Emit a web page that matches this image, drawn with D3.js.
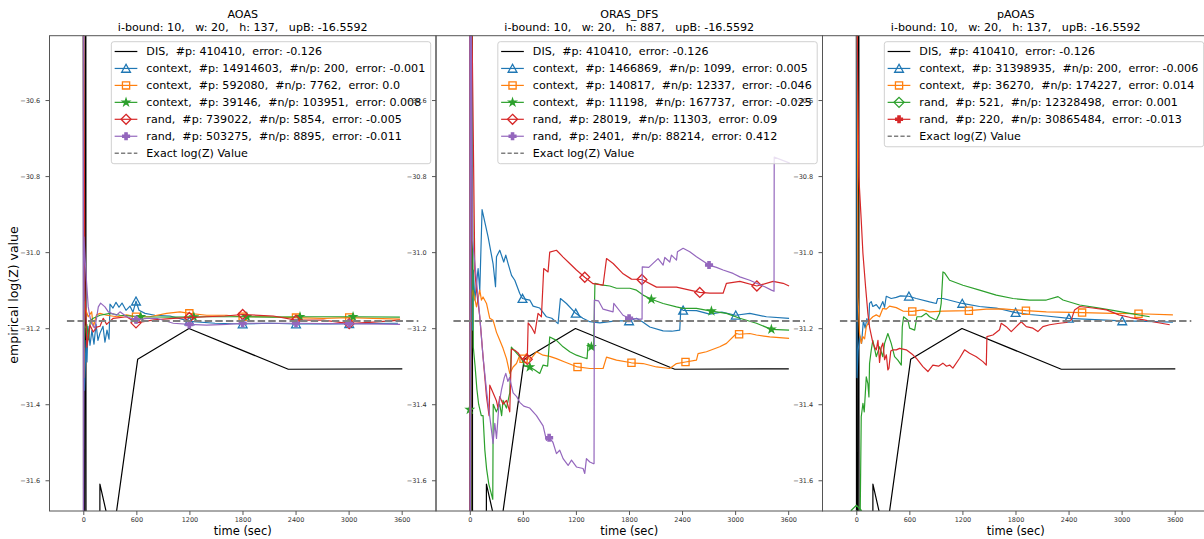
<!DOCTYPE html>
<html><head><meta charset="utf-8">
<script src="https://cdn.jsdelivr.net/npm/d3@7"></script>
<style>
body{margin:0;background:#fff;}
svg{font-family:"DejaVu Sans",sans-serif;}
</style>
</head><body>
<svg id="chart" width="1204" height="539"></svg>
<script>
// ---------------- data ----------------
const timeTicks = [0, 600, 1200, 1800, 2400, 3000, 3600];
const valueTicks = [-31.6, -31.4, -31.2, -31.0, -30.8, -30.6];
const exactLogZ = -31.181;
const exactSpan = [-185, 3788];
const panelTitles = ["AOAS", "ORAS_DFS", "pAOAS"];
const panelSubtitles = [
  "i-bound: 10,   w: 20,   h: 137,   upB: -16.5592",
  "i-bound: 10,   w: 20,   h: 887,   upB: -16.5592",
  "i-bound: 10,   w: 20,   h: 137,   upB: -16.5592"
];
const disLabel = "DIS,  #p: 410410,  error: -0.126";
const exactLabel = "Exact log(Z) Value";
const disData = [[0,-29.5],[4,-33.5],[28,-29.5],[33,-33.5],[178,-33.5],[188,-31.61],[331,-31.757],[615,-31.282],[1195,-31.201],[2318,-31.308],[3607,-31.307]];

// AOAS
const aoasLabels = [
  "context,  #p: 14914603,  #n/p: 200,  error: -0.001",
  "context,  #p: 592080,  #n/p: 7762,  error: 0.0",
  "context,  #p: 39146,  #n/p: 103951,  error: 0.008",
  "rand,  #p: 739022,  #n/p: 5854,  error: -0.005",
  "rand,  #p: 503275,  #n/p: 8895,  error: -0.011"
];
const aoasCtxA = [[0,-29.8],[8,-31.126],[14,-31.363],[31,-31.232],[42,-31.289],[53,-31.195],[76,-31.245],[98,-31.205],[121,-31.242],[144,-31.189],[166,-31.232],[189,-31.213],[223,-31.195],[245,-31.237],[268,-31.205],[291,-31.229],[302,-31.137],[336,-31.147],[370,-31.132],[404,-31.145],[438,-31.134],[483,-31.153],[528,-31.142],[562,-31.158],[596,-31.129],[630,-31.153],[698,-31.161],[811,-31.166],[980,-31.168],[1206,-31.182],[1489,-31.187],[1805,-31.189],[2110,-31.187],[2405,-31.189],[2790,-31.189],[3128,-31.188],[3558,-31.187]];
const aoasCtxB = [[0,-30.1],[6,-31.33],[15,-31.13],[30,-31.153],[56,-31.17],[95,-31.157],[113,-31.197],[150,-31.165],[189,-31.161],[264,-31.166],[380,-31.17],[490,-31.165],[596,-31.17],[750,-31.17],[942,-31.161],[1093,-31.157],[1199,-31.161],[1395,-31.166],[1621,-31.166],[1772,-31.170],[2074,-31.170],[2375,-31.172],[2714,-31.174],[3007,-31.172],[3280,-31.174],[3582,-31.176]];
const aoasCtxC = [[0,-30.3],[8,-31.25],[20,-31.2],[40,-31.19],[60,-31.23],[80,-31.18],[113,-31.174],[189,-31.166],[302,-31.161],[415,-31.166],[640,-31.170],[1017,-31.171],[1395,-31.170],[1772,-31.170],[2149,-31.171],[2450,-31.170],[2760,-31.170],[3050,-31.170],[3580,-31.171]];
const aoasRandA = [[0,-30.2],[19,-31.10],[40,-31.25],[75,-31.192],[94,-31.201],[113,-31.21],[151,-31.197],[189,-31.195],[226,-31.174],[264,-31.19],[339,-31.174],[490,-31.17],[596,-31.186],[800,-31.178],[1017,-31.174],[1199,-31.172],[1394,-31.17],[1600,-31.168],[1802,-31.164],[2149,-31.168],[2405,-31.179],[2714,-31.179],[3007,-31.188],[3280,-31.184],[3580,-31.179]];
const aoasRandB = [[0,-30.2],[3,-31.9],[8,-30.96],[19,-31.012],[38,-31.082],[56,-31.144],[75,-31.17],[95,-31.188],[132,-31.2],[170,-31.144],[196,-31.134],[245,-31.144],[283,-31.157],[321,-31.161],[377,-31.166],[415,-31.157],[490,-31.170],[596,-31.178],[717,-31.174],[830,-31.174],[1017,-31.187],[1199,-31.190],[1394,-31.192],[1621,-31.190],[1802,-31.187],[2405,-31.187],[2714,-31.188],[3007,-31.188],[3582,-31.190]];
const aoasMarkTimes = [[596,1199,1802,2405,3007],[596,1199,1802,2405,3007],[650,1250,1850,2450,3050],[596,1199,1802,2405,3007],[596,1199,1802,2405,3007]];

// ORAS_DFS
const orasLabels = [
  "context,  #p: 1466869,  #n/p: 1099,  error: 0.005",
  "context,  #p: 140817,  #n/p: 12337,  error: -0.046",
  "context,  #p: 11198,  #n/p: 167737,  error: -0.025",
  "rand,  #p: 28019,  #n/p: 11303,  error: 0.09",
  "rand,  #p: 2401,  #n/p: 88214,  error: 0.412"
];
const orasCtxA = [[0,-30.2],[6,-30.3],[17,-31.179],[23,-30.995],[31,-31.205],[40,-31.047],[57,-31.126],[94,-31.043],[113,-31.1],[139,-30.888],[207,-30.960],[263,-31.030],[291,-31.091],[302,-31.012],[339,-30.995],[384,-31.026],[407,-31.008],[433,-31.030],[472,-31.061],[509,-31.074],[565,-31.109],[596,-31.122],[678,-31.126],[716,-31.142],[791,-31.147],[867,-31.170],[927,-31.174],[998,-31.188],[1025,-31.122],[1093,-31.135],[1198,-31.161],[1278,-31.174],[1357,-31.183],[1470,-31.186],[1583,-31.183],[1659,-31.181],[1801,-31.181],[1885,-31.174],[1956,-31.184],[2035,-31.197],[2186,-31.207],[2284,-31.208],[2374,-31.205],[2386,-31.148],[2412,-31.153],[2563,-31.154],[2713,-31.163],[2849,-31.158],[3007,-31.166],[3166,-31.161],[3354,-31.170],[3610,-31.174]];
const orasCtxB = [[0,-30.3],[17,-31.126],[37,-31.100],[76,-31.144],[113,-31.100],[132,-31.126],[150,-31.118],[189,-31.135],[226,-31.174],[263,-31.179],[302,-31.211],[339,-31.232],[376,-31.253],[415,-31.280],[452,-31.319],[490,-31.302],[528,-31.293],[565,-31.271],[599,-31.284],[641,-31.267],[678,-31.284],[754,-31.262],[829,-31.271],[904,-31.274],[980,-31.280],[1074,-31.289],[1218,-31.302],[1357,-31.306],[1507,-31.306],[1546,-31.276],[1659,-31.284],[1828,-31.291],[1959,-31.293],[2111,-31.302],[2261,-31.306],[2337,-31.293],[2439,-31.289],[2563,-31.284],[2581,-31.267],[2676,-31.262],[2826,-31.249],[2902,-31.240],[3015,-31.214],[3045,-31.216],[3166,-31.214],[3241,-31.218],[3392,-31.223],[3610,-31.227]];
const orasCtxC = [[0,-31.414],[3,-30.2],[10,-32.0],[25,-30.4],[40,-31.25],[60,-31.30],[80,-31.36],[100,-31.40],[130,-31.43],[150,-31.43],[170,-31.52],[190,-31.57],[215,-31.61],[260,-31.65],[265,-31.40],[300,-31.42],[339,-31.40],[360,-31.43],[376,-31.39],[415,-31.41],[452,-31.37],[470,-31.25],[509,-31.26],[547,-31.27],[585,-31.28],[620,-31.30],[678,-31.302],[735,-31.31],[791,-31.319],[829,-31.297],[880,-31.30],[904,-31.223],[980,-31.232],[1055,-31.249],[1130,-31.262],[1206,-31.271],[1281,-31.277],[1326,-31.280],[1338,-31.240],[1375,-31.249],[1400,-31.253],[1415,-31.082],[1507,-31.087],[1583,-31.089],[1659,-31.095],[1810,-31.095],[1885,-31.100],[1960,-31.113],[2053,-31.124],[2186,-31.135],[2337,-31.144],[2412,-31.148],[2563,-31.148],[2732,-31.155],[2902,-31.161],[3053,-31.174],[3241,-31.187],[3410,-31.203],[3610,-31.205]];
const orasRandA = [[0,-30.2],[5,-32.2],[20,-30.3],[57,-31.048],[76,-31.1],[113,-31.17],[150,-31.275],[189,-31.38],[218,-31.43],[226,-31.35],[263,-31.37],[300,-31.39],[320,-31.41],[339,-31.38],[376,-31.40],[415,-31.39],[452,-31.42],[471,-31.255],[509,-31.258],[547,-31.265],[585,-31.28],[650,-31.282],[660,-31.186],[697,-31.197],[735,-31.214],[772,-31.161],[810,-31.170],[836,-31.043],[885,-31.052],[904,-31.0],[980,-30.995],[1055,-31.013],[1130,-31.030],[1206,-31.047],[1300,-31.066],[1394,-31.083],[1507,-31.087],[1546,-31.017],[1621,-31.030],[1734,-31.057],[1828,-31.071],[1946,-31.072],[2111,-31.092],[2337,-31.092],[2488,-31.100],[2600,-31.106],[2713,-31.108],[2864,-31.108],[2902,-31.082],[3054,-31.077],[3246,-31.089],[3430,-31.077],[3543,-31.082],[3610,-31.089]];
const orasRandB = [[0,-30.2],[5,-32.2],[15,-30.3],[31,-30.968],[76,-31.074],[113,-31.17],[150,-31.276],[189,-31.363],[207,-31.398],[245,-31.468],[263,-31.503],[283,-31.45],[302,-31.49],[330,-31.40],[360,-31.36],[390,-31.33],[407,-31.319],[430,-31.34],[450,-31.33],[490,-31.37],[530,-31.38],[565,-31.395],[610,-31.405],[678,-31.41],[754,-31.43],[829,-31.457],[867,-31.495],[897,-31.488],[940,-31.50],[980,-31.530],[1017,-31.521],[1055,-31.543],[1112,-31.561],[1150,-31.547],[1206,-31.565],[1281,-31.569],[1300,-31.582],[1319,-31.543],[1357,-31.552],[1394,-31.556],[1405,-31.556],[1408,-31.126],[1455,-31.128],[1507,-31.150],[1620,-31.157],[1628,-31.135],[1733,-31.166],[1801,-31.174],[1922,-31.176],[1948,-31.176],[1950,-31.039],[2024,-31.040],[2129,-31.017],[2186,-31.034],[2205,-31.014],[2261,-31.026],[2280,-31.008],[2337,-31.021],[2348,-30.999],[2412,-30.990],[2487,-30.999],[2563,-31.012],[2705,-31.034],[2789,-31.040],[2864,-31.047],[2977,-31.056],[3053,-31.065],[3166,-31.074],[3241,-31.082],[3335,-31.091],[3411,-31.1],[3440,-31.103],[3442,-30.750],[3618,-30.766]];
const orasMarkTimes = [[596,1198,1801,2412,3007],[608,1218,1828,2439,3045],[0,678,1375,2053,2732,3410],[650,1300,1946,2600,3246],[897,1801,2705]];

// pAOAS
const paoasLabels = [
  "context,  #p: 31398935,  #n/p: 200,  error: -0.006",
  "context,  #p: 36270,  #n/p: 174227,  error: 0.014",
  "rand,  #p: 521,  #n/p: 12328498,  error: 0.001",
  "rand,  #p: 220,  #n/p: 30865484,  error: -0.013"
];
const paoasCtxA = [[0,-30.2],[5,-30.3],[8,-31.33],[20,-31.26],[40,-31.22],[60,-31.24],[80,-31.18],[100,-31.2],[120,-31.175],[140,-31.19],[150,-31.135],[169,-31.130],[187,-31.143],[226,-31.138],[263,-31.149],[300,-31.130],[320,-31.145],[339,-31.116],[395,-31.122],[452,-31.119],[500,-31.115],[595,-31.116],[678,-31.122],[829,-31.131],[904,-31.135],[920,-31.122],[980,-31.122],[1198,-31.135],[1394,-31.143],[1583,-31.147],[1801,-31.159],[1960,-31.164],[2149,-31.168],[2404,-31.174],[2637,-31.177],[3007,-31.181],[3279,-31.182],[3580,-31.184]];
const paoasCtxB = [[0,-30.2],[10,-30.3],[19,-31.118],[37,-31.214],[56,-31.240],[75,-31.222],[94,-31.228],[113,-31.196],[150,-31.179],[187,-31.170],[226,-31.165],[263,-31.170],[300,-31.148],[339,-31.150],[376,-31.142],[452,-31.146],[527,-31.155],[633,-31.156],[754,-31.152],[829,-31.157],[980,-31.155],[1273,-31.154],[1470,-31.150],[1658,-31.149],[1918,-31.154],[2149,-31.157],[2553,-31.159],[2902,-31.161],[3191,-31.162],[3580,-31.165]];
const paoasRandA = [[0,-31.679],[40,-31.78],[56,-31.433],[75,-31.398],[90,-31.42],[113,-31.328],[131,-31.346],[143,-31.381],[150,-31.293],[169,-31.258],[187,-31.232],[226,-31.275],[263,-31.249],[300,-31.275],[320,-31.240],[357,-31.214],[395,-31.240],[433,-31.275],[470,-31.284],[509,-31.297],[520,-31.197],[535,-31.170],[584,-31.179],[603,-31.200],[660,-31.205],[685,-31.170],[735,-31.170],[791,-31.161],[829,-31.170],[904,-31.179],[942,-31.161],[960,-31.135],[980,-31.052],[1000,-31.055],[1055,-31.074],[1206,-31.087],[1394,-31.100],[1583,-31.113],[1772,-31.122],[1960,-31.126],[2149,-31.126],[2281,-31.117],[2337,-31.126],[2525,-31.139],[2713,-31.146],[2902,-31.153],[3091,-31.161],[3317,-31.170]];
const paoasRandB = [[0,-30.2],[29,-30.802],[56,-30.916],[75,-31.003],[105,-31.091],[131,-31.161],[150,-31.197],[169,-31.218],[188,-31.239],[207,-31.25],[226,-31.257],[245,-31.232],[263,-31.29],[283,-31.25],[301,-31.239],[320,-31.283],[340,-31.27],[357,-31.31],[369,-31.305],[390,-31.26],[414,-31.257],[452,-31.257],[490,-31.253],[565,-31.257],[640,-31.270],[678,-31.279],[753,-31.301],[810,-31.314],[866,-31.297],[930,-31.30],[979,-31.292],[1020,-31.30],[1055,-31.297],[1092,-31.305],[1168,-31.279],[1224,-31.257],[1281,-31.266],[1357,-31.275],[1432,-31.288],[1470,-31.297],[1477,-31.222],[1545,-31.218],[1620,-31.204],[1639,-31.187],[1696,-31.196],[1752,-31.209],[1809,-31.196],[1865,-31.183],[1922,-31.196],[1997,-31.2],[2053,-31.209],[2110,-31.196],[2186,-31.191],[2298,-31.187],[2374,-31.185],[2431,-31.178],[2468,-31.152],[2525,-31.143],[2675,-31.147],[2830,-31.152],[2970,-31.165],[3100,-31.172],[3250,-31.178],[3400,-31.185],[3544,-31.191]];
const paoasMarkTimes = [[595,1198,1801,2404,3007],[633,1273,1918,2553,3191],[0],[]];

// ---------------- styling / layout ----------------
const C = {blue:"#1f77b4", orange:"#ff7f0e", green:"#2ca02c", red:"#d62728", purple:"#9467bd"};
const panels = [
  {series:[
    {data:aoasCtxA,label:aoasLabels[0],color:C.blue,marker:"^",marks:aoasMarkTimes[0]},
    {data:aoasCtxB,label:aoasLabels[1],color:C.orange,marker:"s",marks:aoasMarkTimes[1]},
    {data:aoasCtxC,label:aoasLabels[2],color:C.green,marker:"*",marks:aoasMarkTimes[2]},
    {data:aoasRandA,label:aoasLabels[3],color:C.red,marker:"D",marks:aoasMarkTimes[3]},
    {data:aoasRandB,label:aoasLabels[4],color:C.purple,marker:"P",marks:aoasMarkTimes[4]}]},
  {series:[
    {data:orasCtxA,label:orasLabels[0],color:C.blue,marker:"^",marks:orasMarkTimes[0]},
    {data:orasCtxB,label:orasLabels[1],color:C.orange,marker:"s",marks:orasMarkTimes[1]},
    {data:orasCtxC,label:orasLabels[2],color:C.green,marker:"*",marks:orasMarkTimes[2]},
    {data:orasRandA,label:orasLabels[3],color:C.red,marker:"D",marks:orasMarkTimes[3]},
    {data:orasRandB,label:orasLabels[4],color:C.purple,marker:"P",marks:orasMarkTimes[4]}]},
  {series:[
    {data:paoasCtxA,label:paoasLabels[0],color:C.blue,marker:"^",marks:paoasMarkTimes[0]},
    {data:paoasCtxB,label:paoasLabels[1],color:C.orange,marker:"s",marks:paoasMarkTimes[1]},
    {data:paoasRandA,label:paoasLabels[2],color:C.green,marker:"D",marks:paoasMarkTimes[2]},
    {data:paoasRandB,label:paoasLabels[3],color:C.red,marker:"P",marks:paoasMarkTimes[3]}]}
];

const panelLeft = [49.5, 436, 822.5], panelW = 386.5, plotTop = 35.7, plotBottom = 511;
const xBase = d3.scaleLinear().domain([-382, 3988]).range([0, panelW]);
const yScale = d3.scaleLinear().domain([-31.6808, -30.4308]).range([plotBottom, plotTop]);

function markerPath(type){
  switch(type){
    case "^": return "M0,-4.2L4.4,3.8L-4.4,3.8Z";
    case "s": return "M-3.6,-3.6H3.6V3.6H-3.6Z";
    case "D": return "M0,-5L5,0L0,5L-5,0Z";
    case "*": {
      let p=[]; const R=3.7, r=R*0.382;
      for(let i=0;i<10;i++){const a=-Math.PI/2+i*Math.PI/5; const rr=i%2?r:R; p.push([rr*Math.cos(a), rr*Math.sin(a)]);}
      return "M"+p.map(d=>d[0].toFixed(2)+","+d[1].toFixed(2)).join("L")+"Z";
    }
    case "P": { const a=1.15, L=3.4;
      return `M${-a},${-L}H${a}V${-a}H${L}V${a}H${a}V${L}H${-a}V${a}H${-L}V${-a}H${-a}Z`; }
  }
}
const filled = t => t==="*" || t==="P";
function valueAt(data, t){
  const i = d3.bisector(d=>d[0]).left(data, t);
  if(i<=0) return data[0][1];
  if(i>=data.length) return data[data.length-1][1];
  const a=data[i-1], b=data[i];
  return a[1]+(b[1]-a[1])*(t-a[0])/(b[0]-a[0]);
}

const svg = d3.select("#chart");
const defs = svg.append("defs");

panels.forEach((p, pi) => {
  const L = panelLeft[pi];
  const x = xBase.copy().range([L, L+panelW]);
  const y = yScale;
  const g = svg.append("g");
  defs.append("clipPath").attr("id","clip"+pi).append("rect")
    .attr("x",L).attr("y",plotTop).attr("width",panelW).attr("height",plotBottom-plotTop);

  // y axis
  const ya = g.append("g").attr("transform",`translate(${L},0)`)
    .call(d3.axisLeft(y).tickValues(valueTicks).tickFormat(d3.format(".1f")).tickSize(4).tickPadding(5.3));
  ya.select(".domain").remove();
  ya.selectAll("line").attr("stroke","#444").attr("stroke-width",0.9);
  ya.selectAll("text").attr("font-size","6.5px").attr("fill","#333").attr("font-family","DejaVu Sans");
  // x axis
  const xa = g.append("g").attr("transform",`translate(0,${plotBottom})`)
    .call(d3.axisBottom(x).tickValues(timeTicks).tickFormat(d3.format("d")).tickSize(4).tickPadding(2.5));
  xa.select(".domain").remove();
  xa.selectAll("line").attr("stroke","#444").attr("stroke-width",0.9);
  xa.selectAll("text").attr("font-size","6.5px").attr("fill","#333").attr("font-family","DejaVu Sans");

  // content
  const cg = g.append("g").attr("clip-path",`url(#clip${pi})`);
  const line = d3.line().x(d=>x(d[0])).y(d=>y(d[1]));
  cg.append("path").datum(disData).attr("d",line).attr("fill","none")
    .attr("stroke","#000").attr("stroke-width",1.2).attr("stroke-linejoin","round");
  p.series.forEach(s => {
    cg.append("path").datum(s.data).attr("d",line).attr("fill","none")
      .attr("stroke",s.color).attr("stroke-width",1.2).attr("stroke-linejoin","round");
    s.marks.forEach(t => {
      cg.append("path").attr("d",markerPath(s.marker))
        .attr("transform",`translate(${x(t)},${y(valueAt(s.data,t))})`)
        .attr("fill",filled(s.marker)?s.color:"none").attr("stroke",s.color).attr("stroke-width",1.3);
    });
  });
  cg.append("line").attr("x1",x(exactSpan[0])).attr("x2",x(exactSpan[1]))
    .attr("y1",y(exactLogZ)).attr("y2",y(exactLogZ))
    .attr("stroke","#7f7f7f").attr("stroke-width",1.9).attr("stroke-dasharray","7.4,3.2");

  // spines
  g.append("rect").attr("x",L).attr("y",plotTop).attr("width",panelW).attr("height",plotBottom-plotTop)
    .attr("fill","none").attr("stroke","#555").attr("stroke-width",1);

  // titles
  const cx = L + panelW/2;
  g.append("text").attr("x",cx).attr("y",18.3).attr("text-anchor","middle")
    .attr("font-size","11.1px").text(panelTitles[pi]);
  g.append("text").attr("x",cx).attr("y",30.5).attr("text-anchor","middle")
    .attr("font-size","11.1px").style("white-space","pre").text(panelSubtitles[pi]);
  g.append("text").attr("x",cx).attr("y",534.5).attr("text-anchor","middle")
    .attr("font-size","11.5px").text("time (sec)");

  // legend
  const entries = [{label:disLabel,color:"#000",marker:null,dash:null}]
    .concat(p.series.map(s=>({label:s.label,color:s.color,marker:s.marker,dash:null})))
    .concat([{label:exactLabel,color:"#7f7f7f",marker:null,dash:"4.2,2.2"}]);
  const rowH = 16.95, lg = g.append("g");
  const box = lg.append("rect");
  const texts = [];
  entries.forEach((e,i) => {
    const yy = 9.8 + i*rowH;
    lg.append("line").attr("x1",3.3).attr("x2",26).attr("y1",yy).attr("y2",yy)
      .attr("stroke",e.color).attr("stroke-width",e.dash?1.6:1.2).attr("stroke-dasharray",e.dash);
    if(e.marker) lg.append("path").attr("d",markerPath(e.marker)).attr("transform",`translate(14.7,${yy})`)
      .attr("fill",filled(e.marker)?e.color:"none").attr("stroke",e.color).attr("stroke-width",1.3);
    texts.push(lg.append("text").attr("x",35).attr("y",yy).attr("dy","0.36em")
      .attr("font-size","11.1px").style("white-space","pre").text(e.label));
  });
  const tw = d3.max(texts, t => t.node().getComputedTextLength());
  const bw = 35 + tw + 5.5, bh = 9.8 + (entries.length-1)*rowH + 10.5;
  box.attr("x",0).attr("y",0).attr("width",bw).attr("height",bh).attr("rx",2.5)
    .attr("fill","#fff").attr("fill-opacity",0.8).attr("stroke","#d0d0d0").attr("stroke-width",1);
  lg.attr("transform",`translate(${L+panelW-5.3-bw},${plotTop+6})`);
});

// y label
svg.append("text").attr("transform","translate(17.5,295) rotate(-90)").attr("text-anchor","middle")
  .attr("font-size","12.5px").text("empirical log(Z) value");
</script>
</body></html>
